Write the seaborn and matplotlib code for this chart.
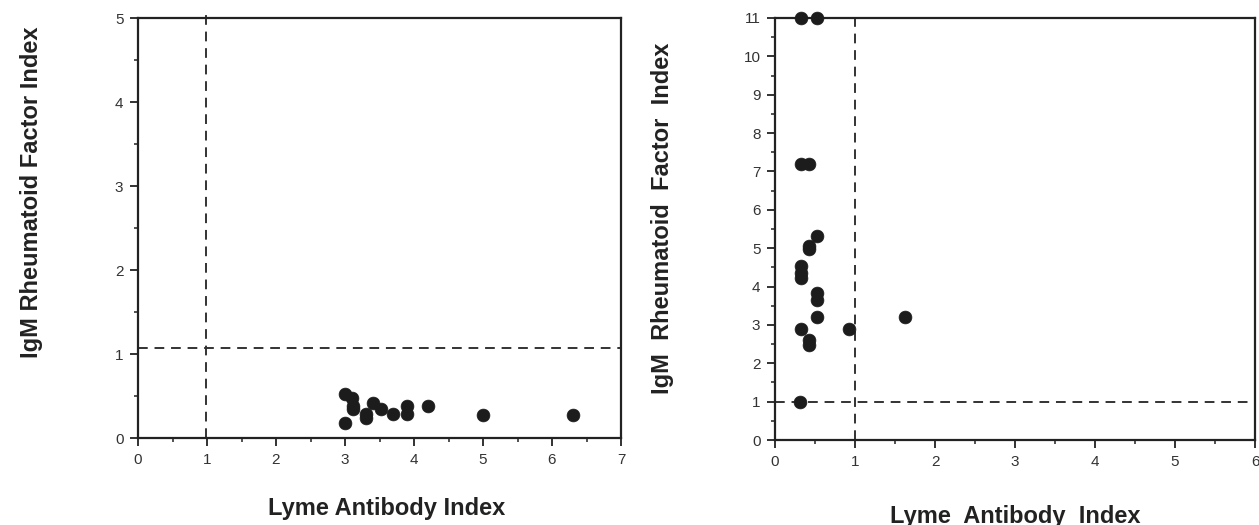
import matplotlib
matplotlib.use("Agg")
import matplotlib.pyplot as plt
import pandas as pd
import numpy as np
import seaborn as sns
from matplotlib.ticker import MultipleLocator

# left panel: lyme antibody index vs IgM RF index
left_lyme = [3.0, 3.1, 3.11, 3.11, 3.0, 3.3, 3.3, 3.4, 3.52, 3.7, 3.9, 3.9, 4.2, 5.0, 6.3]
left_rf = [0.52, 0.48, 0.38, 0.34, 0.18, 0.29, 0.24, 0.42, 0.35, 0.28, 0.38, 0.28, 0.38, 0.27, 0.27]

# right panel
right_lyme = [0.32, 0.53, 0.32, 0.43, 0.53, 0.43, 0.43, 0.32, 0.32, 0.32,
              0.53, 0.53, 0.53, 0.32, 0.43, 0.43, 0.93, 1.63, 0.31]
right_rf = [11.0, 11.0, 7.19, 7.19, 5.31, 5.05, 4.98, 4.53, 4.36, 4.22,
            3.83, 3.66, 3.2, 2.89, 2.61, 2.48, 2.89, 3.2, 1.0]

# cutoff lines (lyme cutoff, rf cutoff)
left_cutoffs = [0.98, 1.07]
right_cutoffs = [1.0, 0.98]

sns.set_style("ticks")
plt.rcParams['font.family'] = ['Liberation Sans', 'DejaVu Sans']

W, H = 1259, 525
fig = plt.figure(figsize=(W / 100, H / 100), dpi=100)
# axes boxes in pixels (left, top, right, bottom)
ax1 = fig.add_axes([138 / W, 1 - 438 / H, (621 - 138) / W, (438 - 18) / H])
ax2 = fig.add_axes([775 / W, 1 - 440 / H, (1255 - 775) / W, (440 - 18) / H])

dark = '#1c1c1c'
ink = '#222222'


def draw_panel(ax, xs, ys, cutoffs, xmax, ymax, vtop=1.0):
    df = pd.DataFrame({'lyme': xs, 'rf': ys})
    sns.scatterplot(data=df, x='lyme', y='rf', ax=ax, s=85, color=dark,
                    edgecolor=dark, linewidth=0.5, clip_on=False, zorder=5)
    ax.axvline(cutoffs[0], ymax=vtop, clip_on=False, color='#333333', lw=1.4,
               ls=(0, (5, 3.5)), zorder=2)
    ax.axhline(cutoffs[1], color='#333333', lw=1.4, ls=(0, (5, 3.5)), zorder=2)
    ax.set_xlim(0, xmax)
    ax.set_ylim(0, ymax)
    ax.xaxis.set_major_locator(MultipleLocator(1))
    ax.xaxis.set_minor_locator(MultipleLocator(0.5))
    ax.yaxis.set_major_locator(MultipleLocator(1))
    ax.yaxis.set_minor_locator(MultipleLocator(0.5))
    ax.tick_params(which='major', direction='out', length=5.5, width=1.3, pad=5,
                   labelsize=11, color=ink, labelcolor='#333333')
    ax.tick_params(which='minor', direction='out', length=3, width=1.1, color=ink)
    for sp in ax.spines.values():
        sp.set_visible(True)
        sp.set_linewidth(1.6)
        sp.set_color(ink)


def place_labels(ax, xlabel, ylabel, xpos, ypos):
    ax.set_xlabel(xlabel, fontsize=17, fontweight='bold', color=ink)
    ax.set_ylabel(ylabel, fontsize=17, fontweight='bold', color=ink)
    ax.xaxis.set_label_coords(xpos[0] / W, 1 - xpos[1] / H, transform=fig.transFigure)
    ax.yaxis.set_label_coords(ypos[0] / W, 1 - ypos[1] / H, transform=fig.transFigure)
    ax.xaxis.label.set_va('center')
    ax.yaxis.label.set_va('center')
    ax.yaxis.label.set_ha('center')


draw_panel(ax1, left_lyme, left_rf, left_cutoffs, 7, 5, vtop=1.015)
draw_panel(ax2, right_lyme, right_rf, right_cutoffs, 6, 11)
place_labels(ax1, 'Lyme Antibody Index', 'IgM Rheumatoid Factor Index', (387, 509), (32, 192))
place_labels(ax2, 'Lyme  Antibody  Index', 'IgM  Rheumatoid  Factor  Index', (1015, 516), (663, 218))

fig.savefig('out.png', dpi=100)
